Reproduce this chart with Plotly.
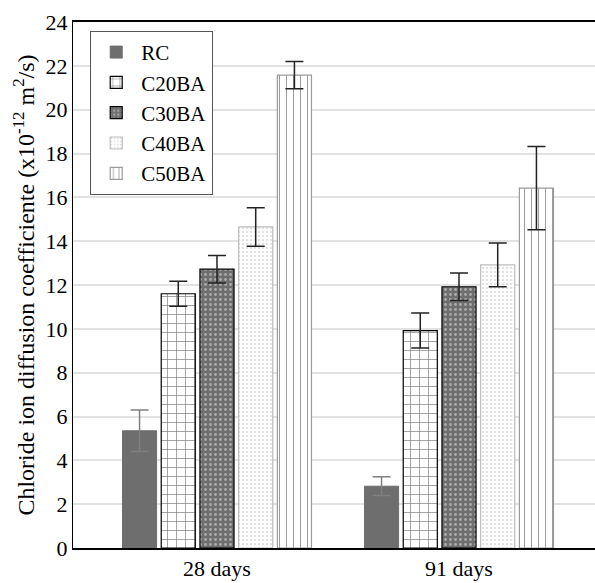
import plotly.graph_objects as go

categories = ["28 days", "91 days"]
series_names = ["RC", "C20BA", "C30BA", "C40BA", "C50BA"]
values = {
    "RC": [5.35, 2.82],
    "C20BA": [11.6, 9.92],
    "C30BA": [12.72, 11.92],
    "C40BA": [14.65, 12.92],
    "C50BA": [21.58, 16.42],
}
errors = {
    "RC": [0.95, 0.43],
    "C20BA": [0.57, 0.8],
    "C30BA": [0.63, 0.63],
    "C40BA": [0.88, 1.0],
    "C50BA": [0.62, 1.9],
}

styles = {
    "RC": dict(color="#6e6e6e", line=dict(color="#6e6e6e", width=1)),
    "C20BA": dict(color="white", line=dict(color="black", width=1.2),
                  pattern=dict(shape="+", fgcolor="black", bgcolor="white", size=9, solidity=0.15)),
    "C30BA": dict(color="#6e6e6e", line=dict(color="black", width=1.2),
                  pattern=dict(shape=".", fgcolor="#e8e8e8", bgcolor="#6e6e6e", size=5, solidity=0.25)),
    "C40BA": dict(color="white", line=dict(color="#bdbdbd", width=1.2),
                  pattern=dict(shape=".", fgcolor="#c4c4c4", bgcolor="white", size=4, solidity=0.3)),
    "C50BA": dict(color="white", line=dict(color="#9a9a9a", width=1.2),
                  pattern=dict(shape="|", fgcolor="#333333", bgcolor="white", size=7, solidity=0.14)),
}
err_colors = {"RC": "#808080", "C20BA": "#222222", "C30BA": "#222222", "C40BA": "#222222", "C50BA": "#222222"}

FONT = "Liberation Serif, Times New Roman, serif"

fig = go.Figure()
for name in series_names:
    fig.add_trace(go.Bar(
        name=name, x=categories, y=values[name],
        marker=styles[name],
        error_y=dict(type="data", array=errors[name], color=err_colors[name], thickness=1.5, width=9),
    ))

fig.update_layout(
    width=595, height=583,
    margin=dict(l=73, r=0, t=22, b=35),
    paper_bgcolor="white", plot_bgcolor="white",
    font=dict(family=FONT, size=22, color="black"),
    barmode="group", bargap=0.2, bargroupgap=0.12,
    legend=dict(x=0.033, y=0.983, xanchor="left", yanchor="top",
                bordercolor="#555555", borderwidth=1, bgcolor="white",
                font=dict(family=FONT, size=21, color="black"), tracegroupgap=0, itemwidth=40),
    xaxis=dict(range=[-0.595, 1.562], showline=True, linecolor="black", linewidth=1.5,
               mirror=True, ticks="", showgrid=False,
               tickfont=dict(family=FONT, size=22, color="black")),
    yaxis=dict(range=[0, 24], dtick=2, showline=True, linecolor="black", linewidth=1.2,
               gridcolor="#e2e2e2", gridwidth=1.5, ticks="", zeroline=False,
               tickfont=dict(family=FONT, size=22, color="black"),
               title=dict(text="Chloride ion diffusion coefficiente (x10<sup>-12</sup> m<sup>2</sup>/s)",
                          font=dict(family=FONT, size=24, color="black"), standoff=4)),
)

fig.write_html("out.html")
